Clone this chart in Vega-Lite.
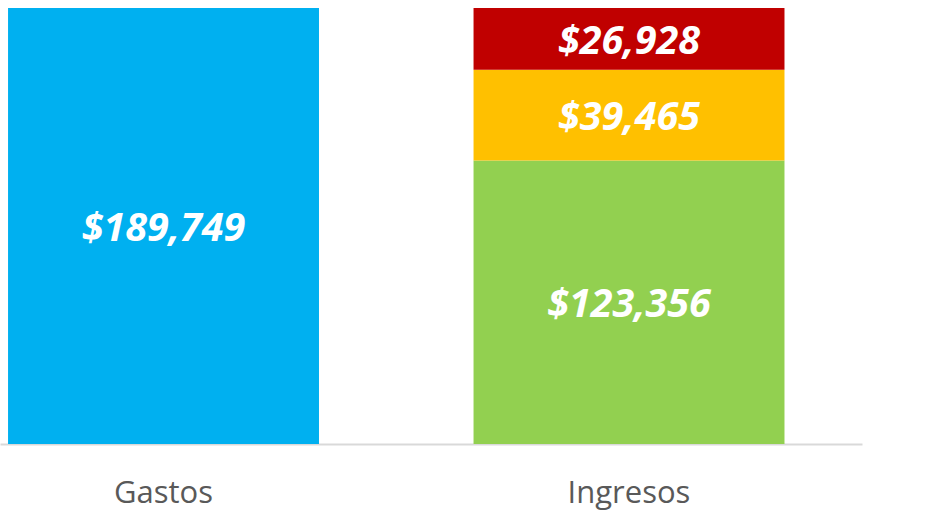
{
  "$schema": "https://vega.github.io/schema/vega-lite/v6.json",
  "width": 862,
  "height": 444,
  "padding": {"left": 0, "top": 0, "right": 78, "bottom": 67},
  "autosize": {"type": "none"},
  "background": "white",
  "config": {"view": {"stroke": null}},
  "data": {
    "values": [
      {"cat": "Gastos", "part": "Gastos", "value": 189749, "ord": 1},
      {"cat": "Ingresos", "part": "Ingresos A", "value": 123356, "ord": 1},
      {"cat": "Ingresos", "part": "Ingresos B", "value": 39465, "ord": 2},
      {"cat": "Ingresos", "part": "Ingresos C", "value": 26928, "ord": 3}
    ]
  },
  "transform": [
    {"stack": "value", "groupby": ["cat"], "sort": [{"field": "ord", "order": "ascending"}], "as": ["v0", "v1"]},
    {"calculate": "(datum.v0 + datum.v1) / 2", "as": "mid"}
  ],
  "encoding": {
    "x": {
      "field": "cat", "type": "nominal", "sort": ["Gastos", "Ingresos"],
      "scale": {"paddingInner": 0.332, "paddingOuter": 0.0919, "align": 0.094},
      "axis": {
        "title": null, "labelAngle": 0, "ticks": false,
        "domainColor": "#d9d9d9", "domainWidth": 2,
        "labelFont": "Open Sans", "labelFontSize": 31, "labelColor": "#595959",
        "labelPadding": 34
      }
    }
  },
  "layer": [
    {
      "mark": {"type": "bar"},
      "encoding": {
        "y": {"field": "v0", "type": "quantitative", "scale": {"domain": [0, 193230], "nice": false, "zero": true}, "axis": null},
        "y2": {"field": "v1"},
        "color": {
          "field": "part", "type": "nominal", "legend": null,
          "scale": {"domain": ["Gastos", "Ingresos A", "Ingresos B", "Ingresos C"], "range": ["#00b0f0", "#92d050", "#ffc000", "#c00000"]}
        }
      }
    },
    {
      "mark": {"type": "text", "font": "Open Sans", "fontSize": 39.5, "fontWeight": "bold", "fontStyle": "italic", "color": "white", "baseline": "middle", "align": "center", "dy": 3},
      "encoding": {
        "y": {"field": "mid", "type": "quantitative"},
        "text": {"field": "value", "type": "quantitative", "format": "$,.0f"}
      }
    }
  ]
}
